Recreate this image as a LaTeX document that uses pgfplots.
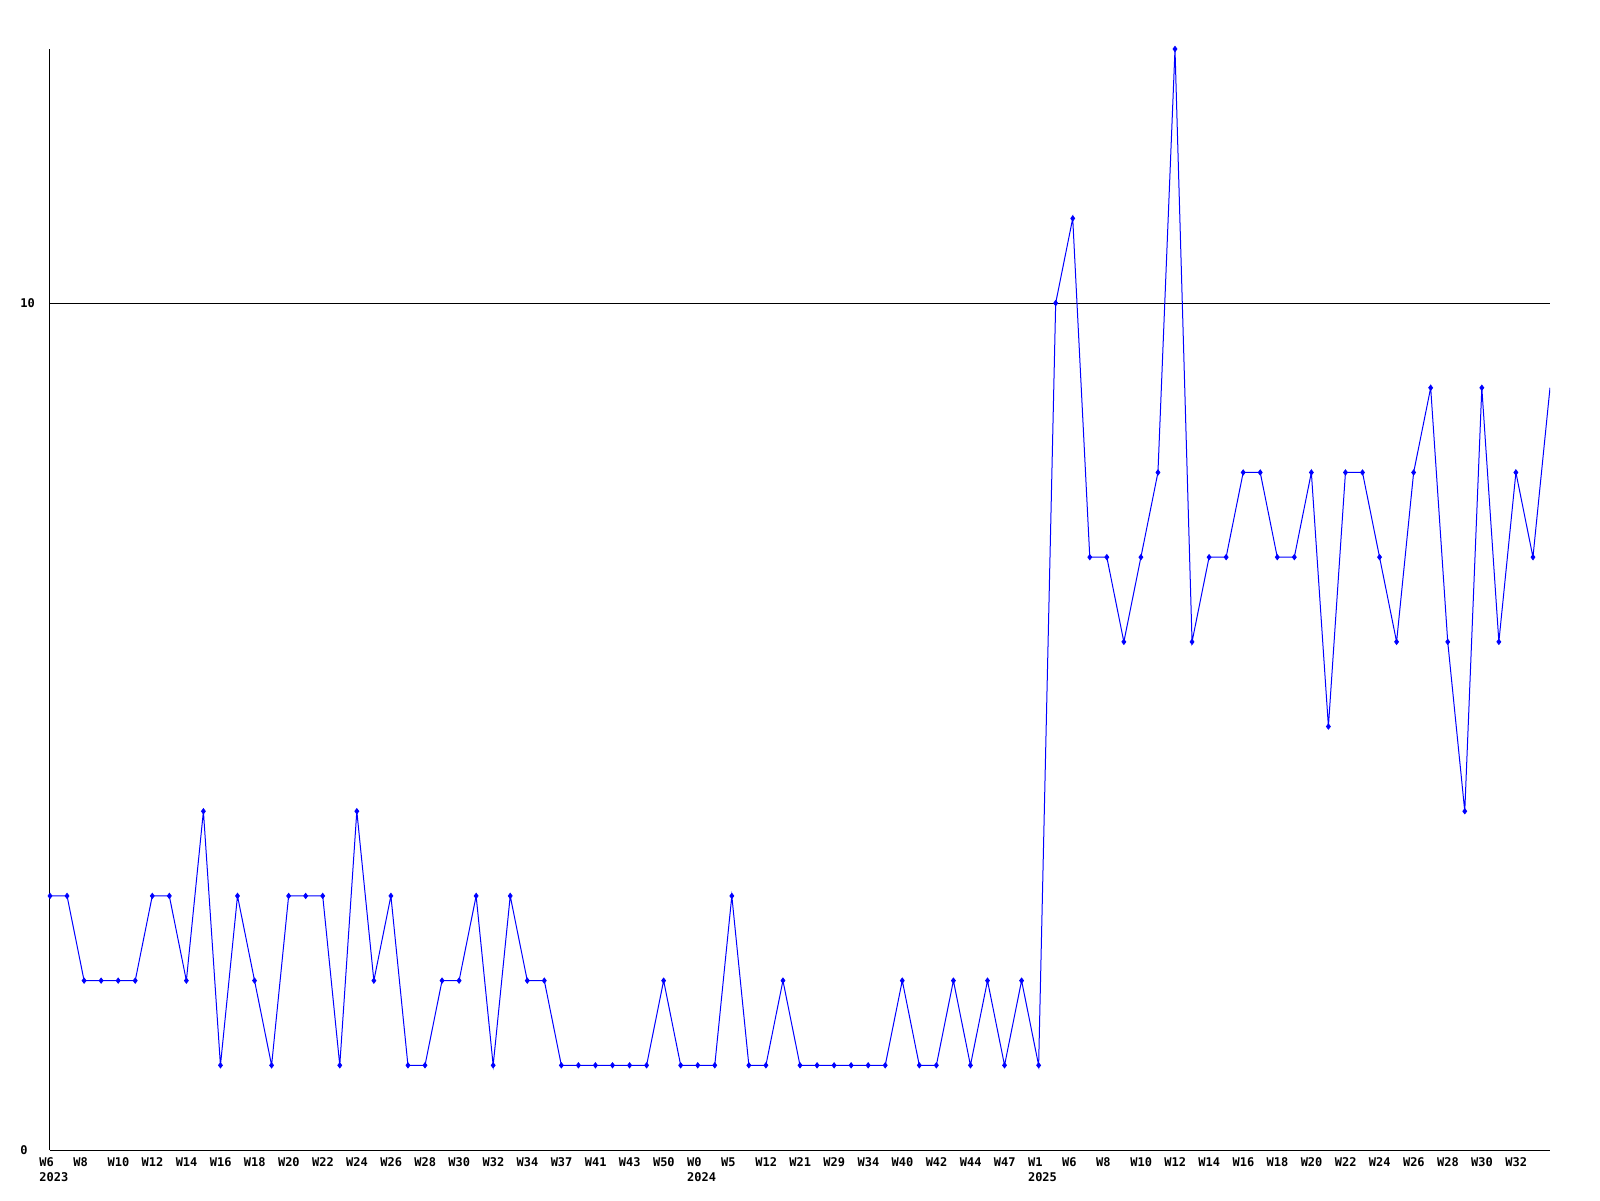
\documentclass[border=0pt]{standalone}
\usepackage{pgfplots}
\pgfplotsset{compat=1.18}
\usepackage{fontspec}
\newfontfamily\lbl{DejaVu Sans Mono}
\begin{document}
\begin{tikzpicture}
\path[use as bounding box] (-25pt,-25pt) rectangle (775pt,575pt);
\begin{axis}[
  scale only axis,
  width=750pt, height=550.5pt,
  xmin=0, xmax=88, ymin=0, ymax=13,
  enlargelimits=false,
  axis x line*=bottom, axis y line*=left,
  axis line style={-, black, line width=0.5pt},
  xtick={0,2,...,86},
  xticklabels={{W6\\2023},W8,W10,W12,W14,W16,W18,W20,W22,W24,W26,W28,W30,W32,W34,W37,W41,W43,W50,{W0\\2024},W5,W12,W21,W29,W34,W40,W42,W44,W47,{W1\\2025},W6,W8,W10,W12,W14,W16,W18,W20,W22,W24,W26,W28,W30,W32},
  xticklabel style={anchor=north west, align=left, inner sep=0pt, xshift=-5.5pt, yshift=-3.5pt, font=\lbl\bfseries\fontsize{6}{7.5}\selectfont},
  ytick={0,10},
  yticklabels={0,10},
  yticklabel style={anchor=west, inner sep=0pt, xshift=-15pt, font=\lbl\bfseries\fontsize{6}{7.5}\selectfont},
  major tick length=0pt,
  ymajorgrids=true,
  major grid style={black, line width=0.5pt},
]
\addplot[blue, line width=0.5pt, mark=none] coordinates {
(0,3)(1,3)(2,2)(3,2)(4,2)(5,2)(6,3)(7,3)(8,2)(9,4)
(10,1)(11,3)(12,2)(13,1)(14,3)(15,3)(16,3)(17,1)(18,4)(19,2)
(20,3)(21,1)(22,1)(23,2)(24,2)(25,3)(26,1)(27,3)(28,2)(29,2)
(30,1)(31,1)(32,1)(33,1)(34,1)(35,1)(36,2)(37,1)(38,1)(39,1)
(40,3)(41,1)(42,1)(43,2)(44,1)(45,1)(46,1)(47,1)(48,1)(49,1)
(50,2)(51,1)(52,1)(53,2)(54,1)(55,2)(56,1)(57,2)(58,1)(59,10)
(60,11)(61,7)(62,7)(63,6)(64,7)(65,8)(66,13)(67,6)(68,7)(69,7)
(70,8)(71,8)(72,7)(73,7)(74,8)(75,5)(76,8)(77,8)(78,7)(79,6)
(80,8)(81,9)(82,6)(83,4)(84,9)(85,6)(86,8)(87,7)(88,9)
};
\addplot[blue, only marks, mark=diamond*, mark size=1.3pt, mark options={fill=blue, draw=blue}] coordinates {
(0,3)(1,3)(2,2)(3,2)(4,2)(5,2)(6,3)(7,3)(8,2)(9,4)
(10,1)(11,3)(12,2)(13,1)(14,3)(15,3)(16,3)(17,1)(18,4)(19,2)
(20,3)(21,1)(22,1)(23,2)(24,2)(25,3)(26,1)(27,3)(28,2)(29,2)
(30,1)(31,1)(32,1)(33,1)(34,1)(35,1)(36,2)(37,1)(38,1)(39,1)
(40,3)(41,1)(42,1)(43,2)(44,1)(45,1)(46,1)(47,1)(48,1)(49,1)
(50,2)(51,1)(52,1)(53,2)(54,1)(55,2)(56,1)(57,2)(58,1)(59,10)
(60,11)(61,7)(62,7)(63,6)(64,7)(65,8)(66,13)(67,6)(68,7)(69,7)
(70,8)(71,8)(72,7)(73,7)(74,8)(75,5)(76,8)(77,8)(78,7)(79,6)
(80,8)(81,9)(82,6)(83,4)(84,9)(85,6)(86,8)(87,7)
};
\end{axis}
\end{tikzpicture}
\end{document}
